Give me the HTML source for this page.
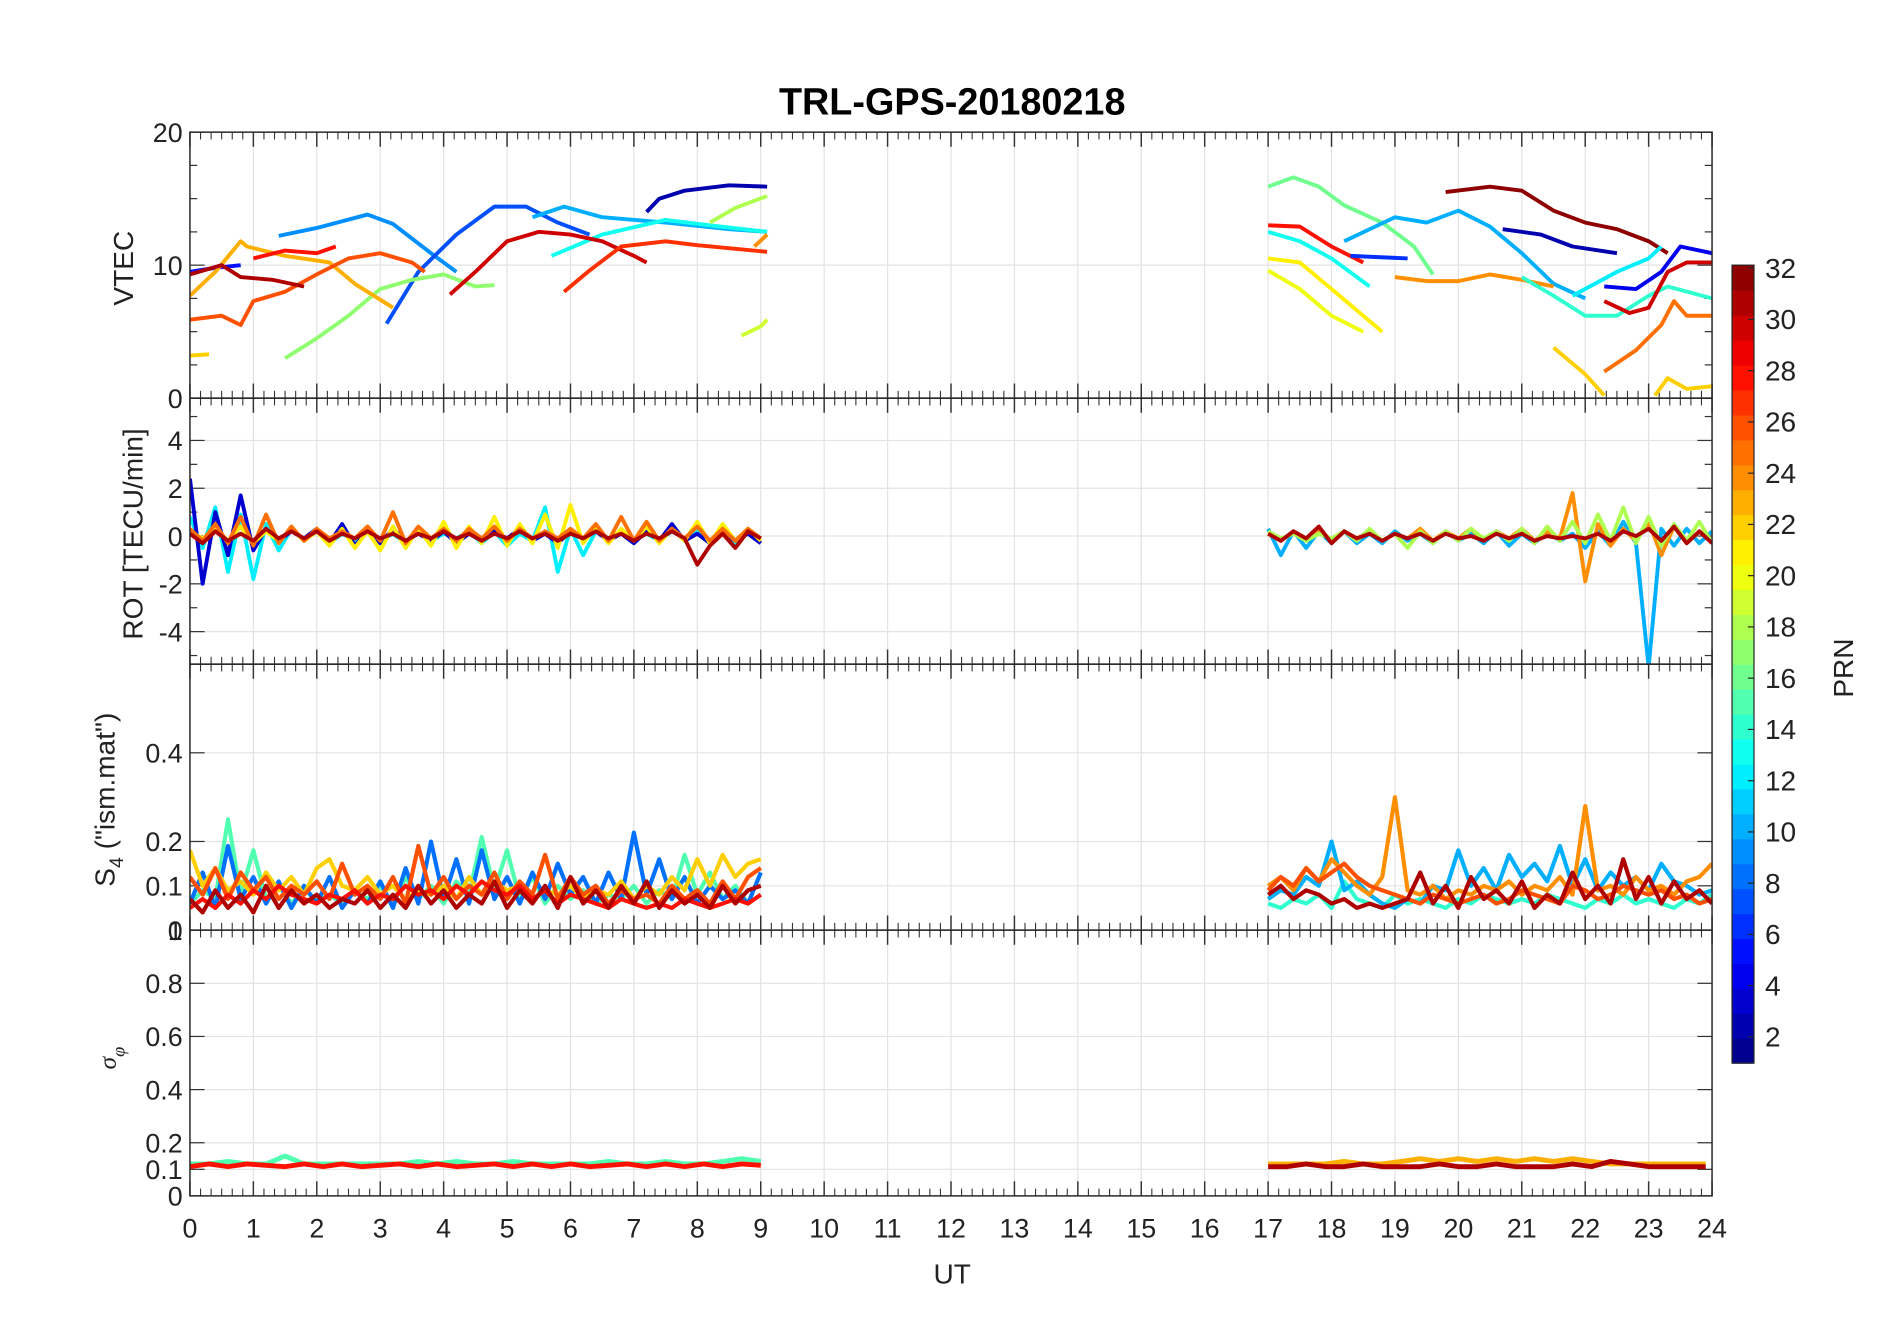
<!DOCTYPE html>
<html><head><meta charset="utf-8"><style>
html,body{margin:0;padding:0;background:#fff;}
svg{display:block;font-family:"Liberation Sans",Arial,sans-serif;}
</style></head><body>
<svg id="fig" width="1902" height="1330" viewBox="0 0 1560 1091" preserveAspectRatio="none" xmlns="http://www.w3.org/2000/svg">
<rect width="1560" height="1091" fill="#fff"/>
<text x="781" y="94" font-size="31" font-weight="bold" text-anchor="middle">TRL-GPS-20180218</text>
<g id="panels"></g>
<text x="781" y="1053" font-size="23" text-anchor="middle" fill="#222">UT</text>
<text transform="translate(109,220) rotate(-90)" font-size="23" text-anchor="middle" fill="#222">VTEC</text>
<text transform="translate(117,438) rotate(-90)" font-size="23" text-anchor="middle" fill="#222">ROT [TECU/min]</text>
<text transform="translate(94,656) rotate(-90)" font-size="23" text-anchor="middle" fill="#222">S<tspan font-size="16" dy="7">4</tspan><tspan dy="-7"> ("ism.mat")</tspan></text>
<text transform="translate(95,868) rotate(-90)" font-size="21" font-family="Liberation Serif,serif" font-style="italic" text-anchor="middle" fill="#222">σ<tspan font-size="15" dy="7">φ</tspan></text>
<g id="cbar"></g>
<text transform="translate(1520,548) rotate(-90)" font-size="23" text-anchor="middle" fill="#222">PRN</text>
</svg>
<script>
// ---- data ----
const xTicks=[0,1,2,3,4,5,6,7,8,9,10,11,12,13,14,15,16,17,18,19,20,21,22,23,24];
const vtecTicks=[0,10,20];
const rotTicks=[-4,-2,0,2,4];
const s4Ticks=[0,0.1,0.2,0.4];
const sigTicks=[0,0.1,0.2,0.4,0.6,0.8,1];
const cbarTicks=[2,4,6,8,10,12,14,16,18,20,22,24,26,28,30,32];
// VTEC tracks
const vtecPrn=[2,5,9,7,10,13,17,18,19,23,22,26,28,31,30,27,24,16,28,13,21,20,10,6,24,32,2,14,12,4,30,22,25,22];
const vtecT=[
[7.2,7.4,7.8,8.5,9.1],[0,0.4,0.8],[1.4,2,2.8,3.2,3.8,4.2],[3.1,3.6,4.2,4.8,5.3,5.8,6.3],
[5.4,5.9,6.5,7.5,8.5,9.1],[5.7,6.5,7.5,8.2,9.1],[1.5,2,2.5,3,3.5,4,4.5,4.8],[8.2,8.6,9.1],[8.7,9.0,9.1],
[0,0.4,0.8,0.9,1.5,2.2,2.6,3.2],[0,0.3],[0,0.5,0.8,1,1.5,2,2.5,3,3.5,3.7],[1,1.5,2,2.3],[0,0.5,0.8,1.3,1.8],
[4.1,4.5,5,5.5,6,6.5,7,7.2],[5.9,6.3,6.8,7.5,8,9.1],[8.9,9.1],
[17,17.4,17.8,18.2,18.8,19.3,19.6],[17,17.5,18,18.5],[17,17.5,18,18.6],[17,17.5,18,18.5,18.8],[17,17.5,18,18.5],
[18.2,19,19.5,20,20.5,21,21.5,22],[18.3,19.2],[19,19.5,20,20.5,21,21.5],[19.8,20.5,21,21.5,22,22.5,23,23.3],
[20.7,21.3,21.8,22.5],[21,21.5,22,22.5,23,23.3,24],[21.8,22.5,23,23.2],[22.3,22.8,23.2,23.5,24],
[22.3,22.7,23,23.3,23.6,24],[21.5,22,22.3],[22.3,22.8,23.2,23.4,23.6,24],[23.1,23.3,23.6,24]];
const vtecV=[
[14,15,15.6,16,15.9],[9.5,9.8,10],[12.2,12.8,13.8,13.1,10.9,9.5],[5.6,9.5,12.3,14.4,14.4,13.2,12.3],
[13.6,14.4,13.6,13.2,12.7,12.5],[10.7,12.3,13.4,13,12.5],[3,4.5,6.2,8.2,8.9,9.3,8.4,8.5],[13.2,14.3,15.2],[4.7,5.4,5.9],
[7.7,9.5,11.8,11.4,10.7,10.2,8.6,6.8],[3.2,3.3],[5.9,6.2,5.5,7.3,8,9.3,10.5,10.9,10.2,9.5],[10.5,11.1,10.9,11.4],[9.3,10,9.1,8.9,8.4],
[7.8,9.5,11.8,12.5,12.3,11.8,10.7,10.2],[8,9.6,11.4,11.8,11.5,11],[11.4,12.3],
[15.9,16.6,15.9,14.5,13.2,11.4,9.3],[13,12.9,11.4,10.2],[12.5,11.8,10.5,8.4],[10.5,10.2,8.2,6.2,5],[9.6,8.2,6.2,5],
[11.8,13.6,13.2,14.1,12.9,10.9,8.6,7.5],[10.7,10.5],[9.1,8.8,8.8,9.3,8.9,8.4],[15.5,15.9,15.6,14.1,13.2,12.7,11.8,10.9],
[12.7,12.3,11.4,10.9],[9.1,7.7,6.2,6.2,7.7,8.4,7.5],[7.7,9.5,10.5,11.4],[8.4,8.2,9.5,11.4,10.9],
[7.3,6.4,6.8,9.5,10.2,10.2],[3.8,1.8,0.2],[2,3.6,5.5,7.3,6.2,6.2],[0.2,1.5,0.7,0.9]];
// ROT series
const rotPrn=[12,3,21,25,31,10,24,18,31];
const rotT0=[0,0,0,0,0,17,17,17,17];
const rotVals=[
[0.8,-0.5,1.2,-1.5,0.9,-1.8,0.5,-0.6,0.3,-0.2,0.2,-0.3,0.1,-0.2,0.3,-0.2,0.1,-0.3,0.2,-0.2,0.1,-0.1,0.2,-0.3,0.2,-0.4,0.1,-0.2,1.2,-1.5,0.3,-0.8,0.2,-0.1,0.2,-0.2,0.1,-0.2,0.2,-0.1,0.3,-0.2,0.2,-0.3,0.2,-0.1],
[2.4,-2.0,1.0,-0.8,1.7,-0.6,0.3,-0.2,0.2,-0.1,0.3,-0.3,0.5,-0.4,0.2,-0.3,0.3,-0.2,0.1,-0.2,0.2,-0.3,0.1,-0.2,0.2,-0.1,0.3,-0.2,0.1,-0.3,0.2,-0.1,0.2,-0.2,0.1,-0.3,0.2,-0.2,0.5,-0.2,0.1,-0.3,0.2,-0.2,0.1,-0.3],
[0.2,-0.1,0.3,-0.2,0.4,-0.3,0.2,-0.2,0.3,-0.2,0.2,-0.4,0.3,-0.5,0.2,-0.6,0.4,-0.5,0.3,-0.4,0.6,-0.5,0.4,-0.3,0.8,-0.4,0.5,-0.3,0.9,-0.5,1.3,-0.3,0.4,-0.3,0.3,-0.2,0.4,-0.3,0.3,-0.2,0.6,-0.3,0.5,-0.2,0.3,-0.2],
[0.3,-0.2,0.5,-0.3,0.8,-0.4,0.9,-0.3,0.4,-0.2,0.3,-0.1,0.2,-0.1,0.4,-0.2,1.0,-0.3,0.4,-0.1,0.3,-0.2,0.3,-0.1,0.4,-0.2,0.3,-0.1,0.2,-0.1,0.3,-0.1,0.5,-0.2,0.8,-0.2,0.6,-0.2,0.3,-0.1,0.4,-0.2,0.3,-0.2,0.3,-0.1],
[0.1,-0.3,0.2,-0.2,0.1,-0.2,0.3,-0.1,0.2,-0.1,0.2,-0.2,0.1,-0.1,0.2,-0.1,0.1,-0.2,0.1,-0.1,0.2,-0.1,0.1,-0.2,0.1,-0.1,0.2,-0.1,0.1,-0.2,0.1,-0.1,0.2,-0.1,0.1,-0.2,0.1,-0.1,0.2,-0.1,-1.2,-0.4,0.1,-0.5,0.2,-0.1],
[0.3,-0.8,0.2,-0.5,0.2,-0.3,0.2,-0.3,0.1,-0.3,0.2,-0.2,0.1,-0.3,0.2,-0.2,0.1,-0.3,0.2,-0.4,0.1,-0.3,0.2,-0.2,0.1,-0.5,0.2,-0.4,0.6,-0.3,-5.5,0.3,-0.4,0.3,-0.3,0.2],
[0.1,-0.2,0.2,-0.1,0.3,-0.2,0.2,-0.1,0.2,-0.2,0.1,-0.1,0.3,-0.2,0.2,-0.1,0.3,-0.2,0.2,-0.1,0.3,-0.2,0.2,-0.1,1.8,-1.9,0.5,-0.4,0.3,-0.2,0.6,-0.8,0.4,-0.3,0.2,-0.2],
[0.2,-0.1,0.1,-0.2,0.1,-0.1,0.2,-0.2,0.3,-0.2,0.1,-0.5,0.2,-0.3,0.2,-0.2,0.3,-0.1,0.2,-0.2,0.3,-0.3,0.4,-0.2,0.6,-0.3,0.9,-0.2,1.2,-0.3,0.8,-0.4,0.5,-0.2,0.6,-0.3],
[0.1,-0.2,0.2,-0.1,0.4,-0.3,0.2,-0.1,0.1,-0.2,0.1,-0.1,0.1,-0.2,0.1,-0.1,0.0,-0.2,0.1,-0.1,0.1,-0.2,0.0,-0.1,0.0,-0.1,0.1,-0.2,0.2,0.0,0.3,-0.2,0.4,-0.3,0.2,-0.3]];
// S4 series
const s4Prn=[15,8,22,26,28,31,14,10,24,26,31];
const s4T0=[0,0,0,0,0,0,17,17,17,17,17];
const s4Vals=[
[.06,.09,.07,.25,.08,.18,.07,.10,.06,.09,.07,.08,.06,.09,.07,.10,.06,.12,.07,.10,.06,.11,.08,.21,.09,.18,.07,.12,.06,.10,.07,.09,.06,.08,.07,.10,.06,.09,.07,.17,.08,.13,.07,.10,.06,.08],
[.06,.13,.05,.19,.07,.12,.06,.11,.05,.10,.06,.12,.05,.09,.06,.11,.05,.14,.06,.20,.07,.16,.06,.18,.07,.12,.06,.13,.07,.15,.08,.12,.06,.13,.07,.22,.08,.16,.07,.12,.06,.10,.07,.09,.06,.13],
[.18,.10,.14,.09,.11,.08,.13,.09,.12,.08,.14,.16,.10,.09,.12,.08,.10,.07,.09,.08,.10,.07,.12,.08,.11,.09,.10,.07,.09,.08,.10,.07,.09,.08,.11,.07,.10,.08,.12,.09,.16,.10,.17,.12,.15,.16],
[.12,.08,.14,.07,.13,.09,.12,.07,.10,.08,.11,.07,.15,.08,.10,.07,.12,.06,.19,.08,.12,.07,.10,.08,.13,.07,.11,.08,.17,.07,.12,.08,.10,.06,.09,.07,.08,.06,.10,.07,.09,.06,.11,.07,.12,.14],
[.05,.07,.05,.08,.06,.09,.07,.10,.08,.07,.06,.08,.07,.09,.06,.08,.07,.10,.08,.09,.07,.10,.08,.11,.09,.08,.10,.07,.09,.06,.08,.07,.06,.05,.07,.06,.05,.06,.05,.07,.06,.05,.06,.07,.06,.08],
[.07,.04,.09,.05,.08,.04,.10,.05,.09,.06,.08,.05,.07,.06,.09,.05,.08,.05,.10,.06,.09,.05,.08,.06,.11,.05,.09,.06,.10,.05,.12,.06,.09,.05,.10,.06,.11,.05,.09,.06,.08,.05,.10,.06,.09,.10],
[.06,.05,.07,.06,.08,.05,.11,.07,.06,.05,.08,.06,.07,.06,.05,.07,.06,.08,.07,.06,.07,.06,.08,.07,.06,.05,.07,.06,.08,.06,.07,.06,.05,.07,.06,.08],
[.07,.09,.08,.12,.10,.20,.09,.11,.08,.06,.05,.07,.06,.10,.09,.18,.10,.14,.09,.17,.12,.15,.11,.19,.10,.16,.09,.13,.10,.12,.09,.15,.11,.10,.08,.09],
[.10,.12,.09,.14,.11,.16,.13,.10,.08,.12,.30,.09,.08,.10,.07,.09,.08,.10,.09,.11,.08,.10,.09,.12,.08,.28,.09,.10,.08,.12,.09,.10,.08,.11,.12,.15],
[.09,.12,.10,.14,.11,.13,.15,.12,.10,.09,.08,.07,.06,.08,.07,.06,.07,.08,.06,.07,.09,.08,.07,.06,.10,.09,.07,.08,.10,.09,.08,.09,.07,.08,.06,.07],
[.08,.10,.07,.09,.08,.06,.07,.05,.06,.05,.06,.07,.13,.06,.10,.05,.12,.07,.09,.06,.11,.05,.08,.06,.13,.07,.10,.06,.16,.07,.12,.06,.11,.07,.09,.06]];
// sigma-phi series
const sigPrn=[15,28,23,31];
const sigT0=[0,0,17,17];
const sigVals=[
[.12,.12,.13,.12,.12,.15,.12,.12,.12,.12,.12,.12,.13,.12,.13,.12,.12,.13,.12,.12,.12,.12,.13,.12,.12,.13,.12,.12,.13,.14,.13],
[.11,.12,.11,.12,.115,.11,.12,.11,.12,.11,.115,.12,.11,.12,.11,.115,.12,.11,.12,.11,.12,.11,.115,.12,.11,.12,.11,.12,.11,.12,.115],
[.12,.12,.12,.12,.13,.12,.12,.13,.14,.13,.14,.13,.14,.13,.14,.13,.14,.13,.12,.12,.12,.12,.12,.12],
[.11,.11,.12,.11,.11,.12,.11,.11,.11,.12,.11,.11,.12,.11,.11,.11,.12,.11,.13,.12,.11,.11,.11,.11]];

// ---- drawing ----
const NS='http://www.w3.org/2000/svg';
const X0=155.8,X1=1404.2;
function xs(t){return X0+(t/24)*(X1-X0);}
function clamp(v){return Math.max(0,Math.min(1,v));}
function jet(p){const v=(p-0.5)/32;const r=clamp(1.5-Math.abs(4*v-3)),g=clamp(1.5-Math.abs(4*v-2)),b=clamp(1.5-Math.abs(4*v-1));return 'rgb('+Math.round(r*255)+','+Math.round(g*255)+','+Math.round(b*255)+')';}
function mk(tag,attrs,parent){const e=document.createElementNS(NS,tag);for(const k in attrs)e.setAttribute(k,attrs[k]);parent.appendChild(e);return e;}
const root=document.getElementById('panels');
const panels=[
 {name:'vtec',top:108.4,bot:326.6,min:0,max:20,ticks:vtecTicks,minor:[2.5,5,7.5,12.5,15,17.5]},
 {name:'rot',top:326.6,bot:544.8,min:-5.36,max:5.77,ticks:rotTicks,minor:[-5,-3,-1,1,3,5]},
 {name:'s4',top:544.8,bot:763,min:0,max:0.6,ticks:s4Ticks,minor:[]},
 {name:'sigma',top:763,bot:981,min:0,max:1,ticks:sigTicks,minor:[]}];
panels.forEach((P,pi)=>{
 P.ys=v=>P.bot-(v-P.min)/(P.max-P.min)*(P.bot-P.top);
 const g=mk('g',{},root);
 
 
 xTicks.forEach(t=>{const l=mk('line',{x1:xs(t),x2:xs(t),y1:P.top,y2:P.bot,stroke:'#e3e3e3','stroke-width':1},g);
  });
 P.ticks.forEach(v=>{const y=P.ys(v);const l=mk('line',{x1:X0,x2:X1,y1:y,y2:y,stroke:'#e3e3e3','stroke-width':1},g);
  
  mk('line',{x1:X0,x2:X0+12,y1:y,y2:y,stroke:'#333'},g);mk('line',{x1:X1,x2:X1-12,y1:y,y2:y,stroke:'#333'},g);
  const tx=mk('text',{x:X0-6,y:y+8,'font-size':22,'text-anchor':'end',fill:'#222'},g);tx.textContent=String(v);
  });
 P.minor.forEach(v=>{const y=P.ys(v);mk('line',{x1:X0,x2:X0+6,y1:y,y2:y,stroke:'#333'},g);mk('line',{x1:X1,x2:X1-6,y1:y,y2:y,stroke:'#333'},g);});
 for(let k=0;k<=144;k++){const t=k/6;const x=xs(t);const major=k%6===0;const L=major?12:6;
  mk('line',{x1:x,x2:x,y1:P.bot,y2:P.bot-L,stroke:'#333','stroke-width':major?1.2:0.9},g);mk('line',{x1:x,x2:x,y1:P.top,y2:P.top+L,stroke:'#333','stroke-width':major?1.2:0.9},g);}
 const clipId='clip'+pi;const cp=mk('clipPath',{id:clipId},g);mk('rect',{x:X0,y:P.top,width:X1-X0,height:P.bot-P.top},cp);
 P.data=mk('g',{'clip-path':'url(#'+clipId+')'},g);
 P.frame=g;
});
function poly(P,ts,vs,prn,w,name){const pts=ts.map((t,i)=>xs(t).toFixed(1)+','+P.ys(vs[i]).toFixed(1)).join(' ');
 const e=mk('polyline',{points:pts,fill:'none',stroke:jet(prn),'stroke-width':w,'stroke-linejoin':'round'},P.data);
 }
vtecPrn.forEach((p,i)=>poly(panels[0],vtecT[i],vtecV[i],p,3.2,'vtec-track-prn'+p));
rotPrn.forEach((p,i)=>{const ts=rotVals[i].map((_,k)=>Math.min(rotT0[i]+k*0.2,rotT0[i]===0?9.1:24));poly(panels[1],ts,rotVals[i],p,3.2,'rot-series-prn'+p);});
s4Prn.forEach((p,i)=>{const ts=s4Vals[i].map((_,k)=>Math.min(s4T0[i]+k*0.2,s4T0[i]===0?9.1:24));poly(panels[2],ts,s4Vals[i],p,3.4,'s4-series-prn'+p);});
sigPrn.forEach((p,i)=>{const ts=sigVals[i].map((_,k)=>Math.min(sigT0[i]+k*0.3,sigT0[i]===0?9.1:24));poly(panels[3],ts,sigVals[i],p,4,'sigma-series-prn'+p);});
panels.forEach(P=>{const r=mk('rect',{x:X0,y:P.top,width:X1-X0,height:P.bot-P.top,fill:'none',stroke:'#262626','stroke-width':1.2},P.frame);
 });
const xl=mk('g',{},root);


xTicks.forEach(t=>{const tx=mk('text',{x:xs(t),y:1015,'font-size':22,'text-anchor':'middle',fill:'#222'},xl);tx.textContent=String(t);});
// colorbar
const cb=document.getElementById('cbar');


const CT=217.5,CB=872,CX=1420.6,CW=18;
for(let p=1;p<=32;p++){const h=(CB-CT)/32;mk('rect',{x:CX,y:CB-p*h,width:CW,height:h+0.6,fill:jet(p)},cb);}
mk('rect',{x:CX,y:CT,width:CW,height:CB-CT,fill:'none',stroke:'#262626','stroke-width':1},cb);
cbarTicks.forEach(p=>{const y=871.6-(p-1)*21.02;mk('line',{x1:CX+CW,x2:CX+CW-5,y1:y,y2:y,stroke:'#262626'},cb);
 const tx=mk('text',{x:CX+27,y:y+8,'font-size':23,fill:'#222'},cb);tx.textContent=String(p);});
</script>
</body></html>
